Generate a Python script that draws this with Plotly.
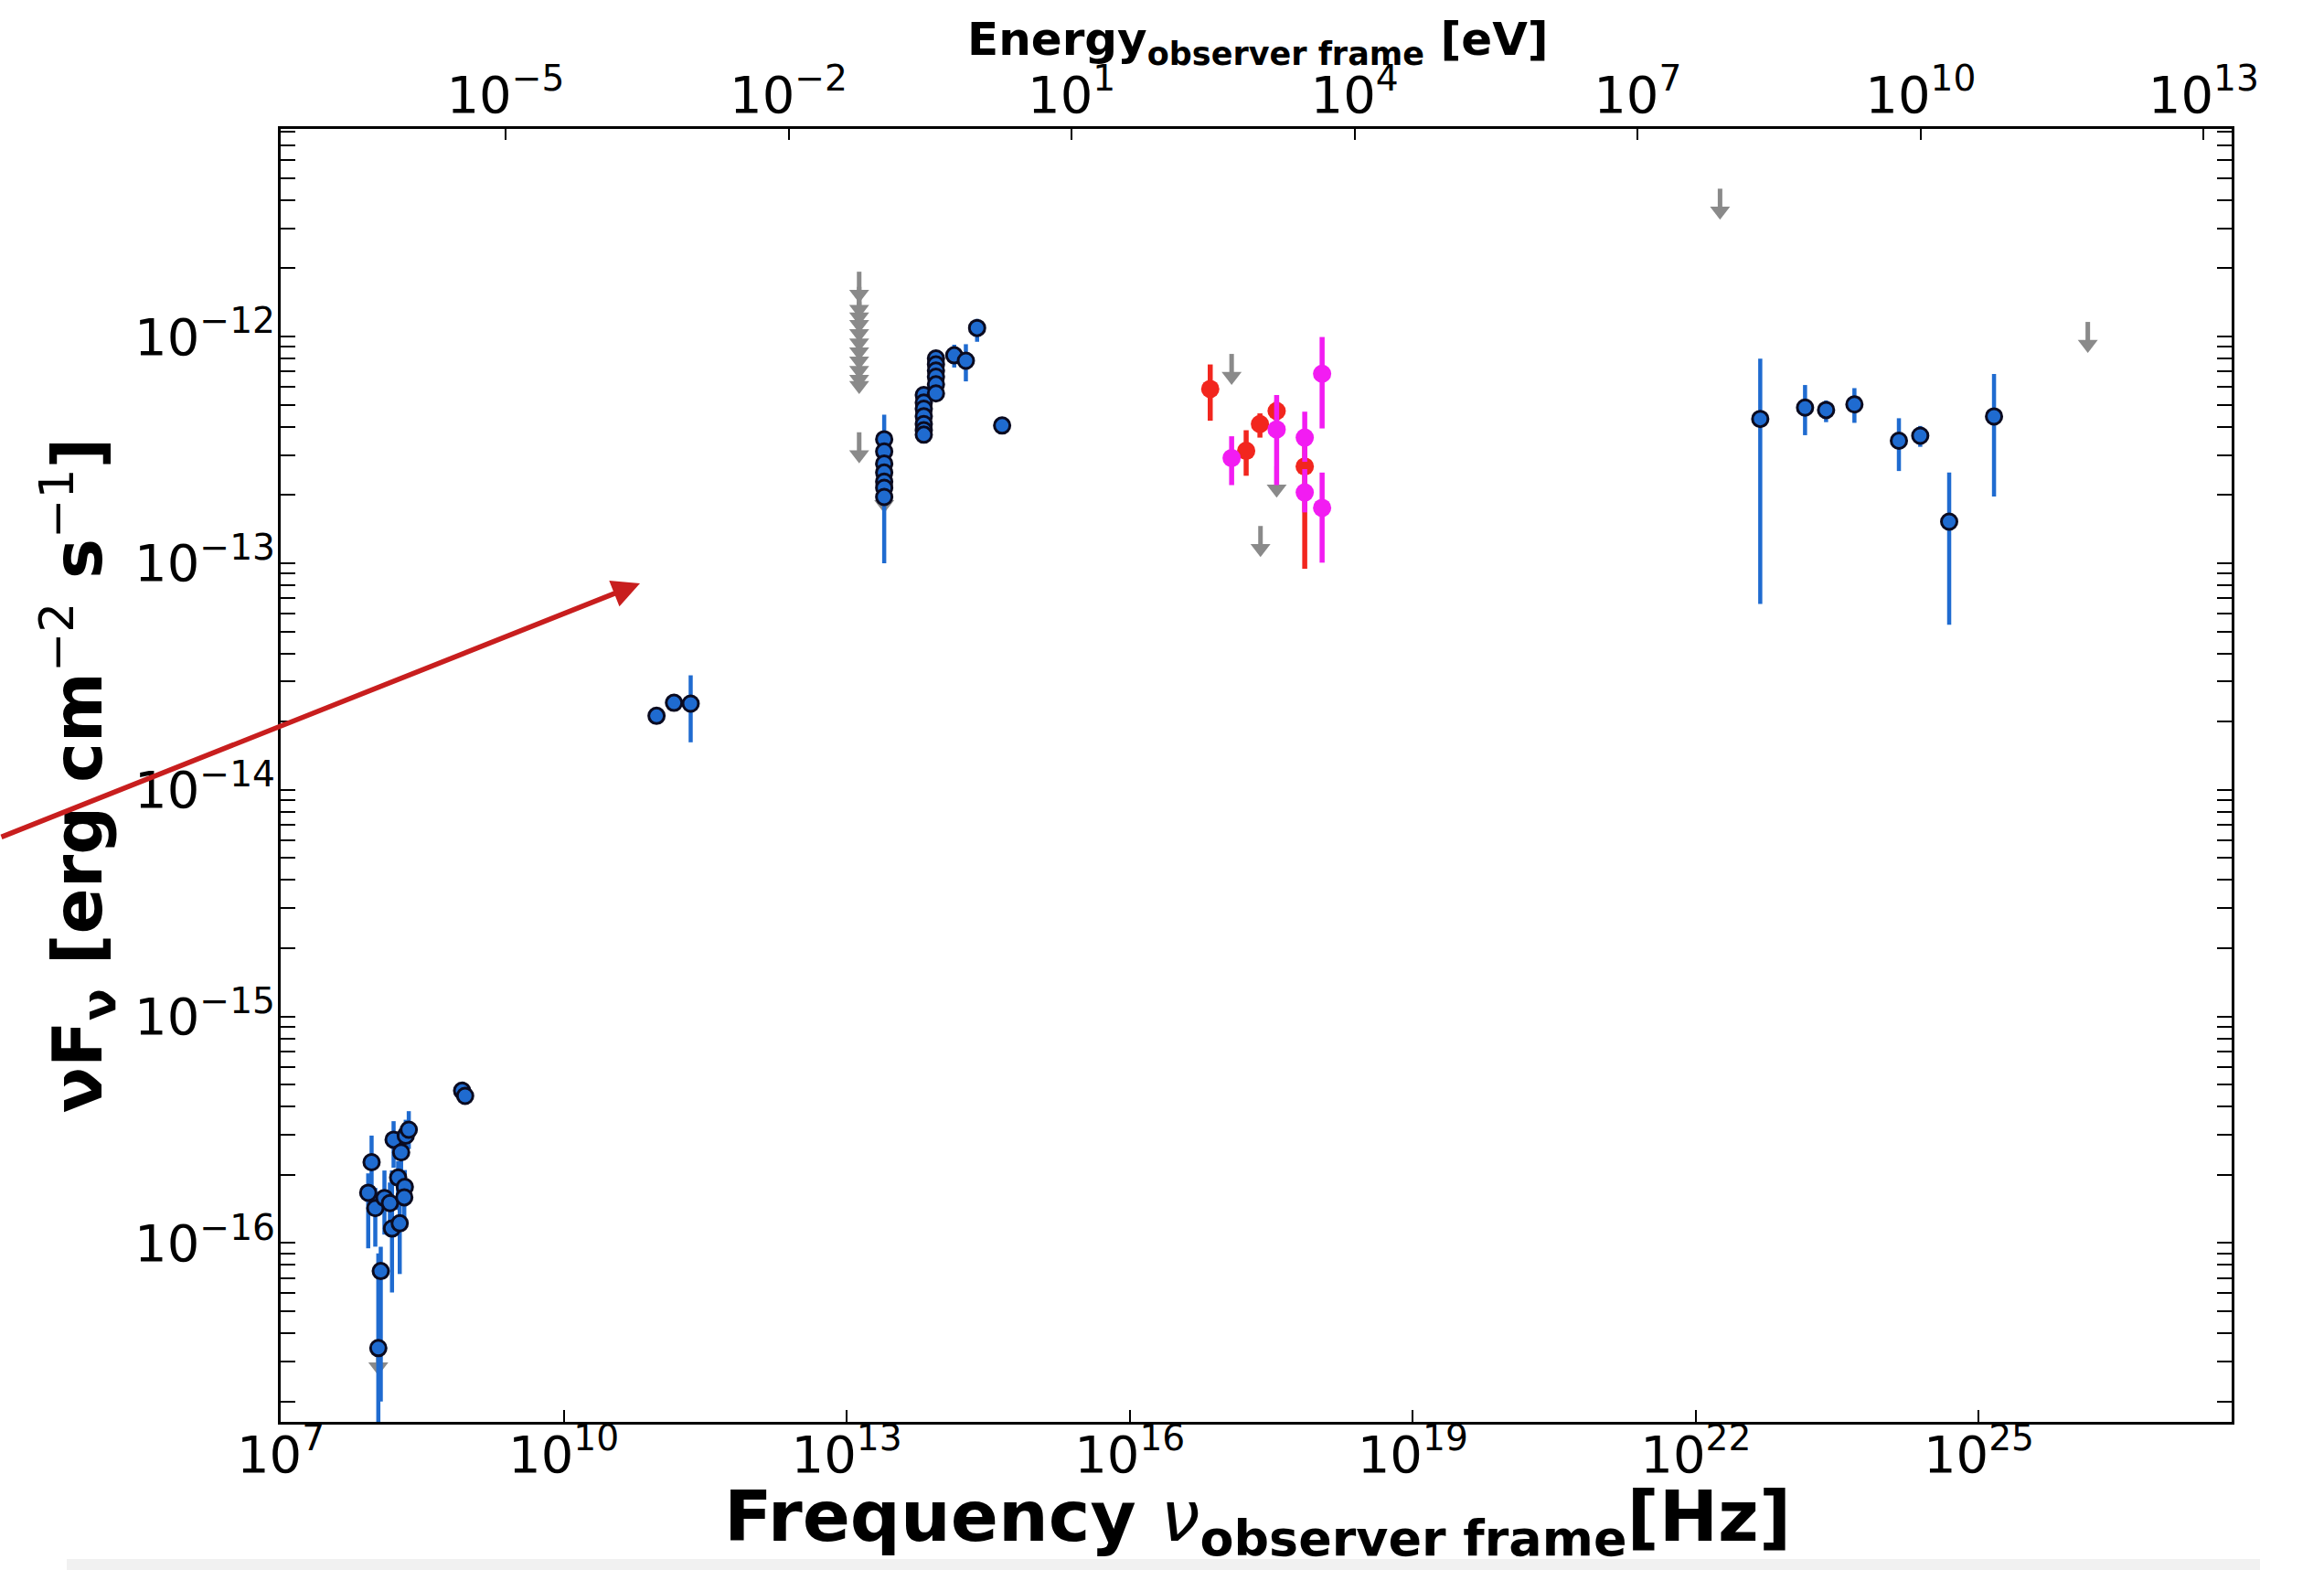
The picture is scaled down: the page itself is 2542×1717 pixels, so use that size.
import numpy as np
import plotly.graph_objects as go

# ------------------------------------------------------------------ data
# Radio (blue, with error bars)
radio_nu = [9.20e7, 8.47e7, 1.007e8, 1.259e8, 1.439e8, 1.574e8, 1.892e8, 2.118e8, 2.280e8,
            1.758e8, 2.070e8, 2.042e8, 1.514e8, 1.828e8, 1.151e8, 1.084e8, 8.38e8, 9.02e8]
radio_flux = [2.275e-16, 1.667e-16, 1.426e-16, 1.581e-16, 1.500e-16, 2.858e-16, 2.512e-16, 2.979e-16, 3.162e-16,
              1.945e-16, 1.770e-16, 1.592e-16, 1.159e-16, 1.222e-16, 7.52e-17, 3.44e-17, 4.70e-16, 4.46e-16]
radio_hi = [2.98e-16, 2.03e-16, 1.75e-16, 2.09e-16, 1.85e-16, 3.45e-16, 3.20e-16, 3.50e-16, 3.82e-16,
            2.30e-16, 2.10e-16, 1.90e-16, 2.09e-16, 2.03e-16, 9.64e-17, 9.0e-17, 4.70e-16, 4.46e-16]
radio_lo = [1.71e-16, 9.48e-17, 9.64e-17, 1.09e-16, 1.20e-16, 2.15e-16, 1.80e-16, 2.50e-16, 2.60e-16,
            1.40e-16, 1.45e-16, 1.30e-16, 6.05e-17, 7.30e-17, 2.0e-17, 5.0e-18, 4.70e-16, 4.46e-16]

# Sub-mm (blue)
submm_nu = [9.64e10, 1.476e11, 2.218e11]
submm_flux = [2.12e-14, 2.42e-14, 2.40e-14]
submm_hi = [2.12e-14, 2.42e-14, 3.20e-14]
submm_lo = [2.12e-14, 2.42e-14, 1.62e-14]

# IR / optical (blue)
iro_nu = [2.496e13] * 7 + [6.56e13] * 7 + [8.83e13] * 6 + [1.380e14, 1.832e14, 2.41e14, 4.44e14]
iro_flux = [3.52e-13, 3.11e-13, 2.75e-13, 2.51e-13, 2.29e-13, 2.15e-13, 1.96e-13,
            5.52e-13, 5.11e-13, 4.80e-13, 4.45e-13, 4.11e-13, 3.86e-13, 3.69e-13,
            8.00e-13, 7.53e-13, 7.08e-13, 6.65e-13, 6.15e-13, 5.61e-13,
            8.26e-13, 7.82e-13, 1.091e-12, 4.05e-13]
iro_hi = [3.52e-13, 3.11e-13, 2.75e-13, 4.52e-13, 2.29e-13, 2.15e-13, 1.96e-13,
          5.52e-13, 5.11e-13, 4.80e-13, 4.45e-13, 4.11e-13, 3.86e-13, 3.69e-13,
          8.00e-13, 7.53e-13, 7.08e-13, 6.65e-13, 6.15e-13, 5.61e-13,
          9.20e-13, 9.25e-13, 1.196e-12, 4.05e-13]
iro_lo = [3.52e-13, 3.11e-13, 2.75e-13, 1.00e-13, 2.29e-13, 2.15e-13, 1.96e-13,
          5.52e-13, 5.11e-13, 4.80e-13, 4.45e-13, 4.11e-13, 3.86e-13, 3.69e-13,
          8.00e-13, 7.53e-13, 7.08e-13, 6.65e-13, 6.15e-13, 5.61e-13,
          7.30e-13, 6.34e-13, 9.48e-13, 4.05e-13]

# Gamma-ray (blue)
gam_nu = [4.82e22, 1.439e23, 2.404e23, 4.80e23, 1.422e24, 2.393e24, 4.85e24, 1.449e25]
gam_flux = [4.33e-13, 4.86e-13, 4.74e-13, 5.02e-13, 3.47e-13, 3.65e-13, 1.524e-13, 4.44e-13]
gam_hi = [7.98e-13, 6.11e-13, 5.22e-13, 5.92e-13, 4.36e-13, 4.03e-13, 2.51e-13, 6.84e-13]
gam_lo = [6.61e-14, 3.67e-13, 4.19e-13, 4.16e-13, 2.55e-13, 3.26e-13, 5.35e-14, 1.97e-13]

# X-ray (red)
xr_red_nu = [7.13e16, 1.714e17, 2.399e17, 3.606e17, 7.16e17]
xr_red_flux = [5.87e-13, 3.13e-13, 4.11e-13, 4.69e-13, 2.67e-13]
xr_red_hi = [7.53e-13, 3.86e-13, 4.58e-13, 5.20e-13, 3.50e-13]
xr_red_lo = [4.25e-13, 2.43e-13, 3.58e-13, 4.25e-13, 9.44e-14]

# X-ray (magenta)
xr_mag_nu = [1.202e17, 3.606e17, 7.16e17, 7.16e17, 1.094e18, 1.094e18]
xr_mag_flux = [2.91e-13, 3.89e-13, 3.58e-13, 2.05e-13, 6.85e-13, 1.754e-13]
xr_mag_hi = [3.63e-13, 5.52e-13, 4.66e-13, 2.60e-13, 9.95e-13, 2.51e-13]
xr_mag_lo = [2.21e-13, 2.21e-13, 2.80e-13, 1.675e-13, 3.93e-13, 1.005e-13]

# Upper limits (grey arrows)
ul_nu = [1.084e8] + [1.355e13] * 12 + [2.496e13, 1.202e17, 2.432e17, 3.606e17, 1.807e22, 1.429e26]
ul_flux = [3.57e-17, 1.932e-12, 1.656e-12, 1.535e-12, 1.419e-12, 1.294e-12, 1.178e-12, 1.074e-12,
           9.79e-13, 8.91e-13, 8.13e-13, 7.64e-13, 3.78e-13, 2.28e-13, 8.38e-13, 1.459e-13, 2.67e-13,
           4.49e-12, 1.16e-12]

# Axes ticks
x_tick_vals = [1e7, 1e10, 1e13, 1e16, 1e19, 1e22, 1e25]
x_tick_text = ["10<sup>7</sup>", "10<sup>10</sup>", "10<sup>13</sup>", "10<sup>16</sup>",
               "10<sup>19</sup>", "10<sup>22</sup>", "10<sup>25</sup>"]
e_tick_vals = [1e-5, 1e-2, 1e1, 1e4, 1e7, 1e10, 1e13]
e_tick_text = ["10<sup>−5</sup>", "10<sup>−2</sup>", "10<sup>1</sup>", "10<sup>4</sup>",
               "10<sup>7</sup>", "10<sup>10</sup>", "10<sup>13</sup>"]
y_tick_vals = [1e-16, 1e-15, 1e-14, 1e-13, 1e-12]
y_tick_text = ["10<sup>−16</sup>", "10<sup>−15</sup>", "10<sup>−14</sup>", "10<sup>−13</sup>", "10<sup>−12</sup>"]

H_EV = 4.1357e-15  # Planck constant [eV s]

# ------------------------------------------------------------------ layout geometry
W, H = 2542, 1717
L, R, T, B = 307, 2441, 141, 1555
X_RANGE = [7.0, 27.68]
Y_RANGE = [-16.789, -11.084]
px_per_dec_y = (B - T) / (Y_RANGE[1] - Y_RANGE[0])

BLUE = "#1f6bd0"
RED = "#f2261e"
MAG = "#f21cf2"
GREY = "#8a8a8a"

fig = go.Figure()


def errs(v, hi, lo):
    v, hi, lo = map(np.asarray, (v, hi, lo))
    return hi - v, v - lo


# grey upper-limit arrows
arrow_dec = 34 / px_per_dec_y
head_up = 9.5 / px_per_dec_y
ul = np.asarray(ul_flux)
tip = ul * 10 ** (-arrow_dec)
head_c = tip * 10 ** head_up
fig.add_trace(go.Scatter(
    x=ul_nu, y=ul, mode="markers", marker=dict(size=1, color="rgba(0,0,0,0)"),
    error_y=dict(type="data", symmetric=False, array=np.zeros(len(ul)), arrayminus=ul - head_c,
                 color=GREY, thickness=5, width=0),
    hoverinfo="skip", showlegend=False))
fig.add_trace(go.Scatter(
    x=ul_nu, y=head_c, mode="markers",
    marker=dict(symbol="triangle-down", size=19, color=GREY, line=dict(width=0)),
    hoverinfo="skip", showlegend=False))

# blue points
for nu, f, hi, lo in [(radio_nu, radio_flux, radio_hi, radio_lo),
                      (submm_nu, submm_flux, submm_hi, submm_lo),
                      (iro_nu, iro_flux, iro_hi, iro_lo),
                      (gam_nu, gam_flux, gam_hi, gam_lo)]:
    ep, em = errs(f, hi, lo)
    fig.add_trace(go.Scatter(
        x=nu, y=f, mode="markers",
        marker=dict(size=17, color=BLUE, line=dict(color="#0b0b20", width=3)),
        error_y=dict(type="data", symmetric=False, array=ep, arrayminus=em,
                     color=BLUE, thickness=4.5, width=0),
        showlegend=False))

# X-ray points
for nu, f, hi, lo, col in [(xr_red_nu, xr_red_flux, xr_red_hi, xr_red_lo, RED),
                           (xr_mag_nu, xr_mag_flux, xr_mag_hi, xr_mag_lo, MAG)]:
    ep, em = errs(f, hi, lo)
    fig.add_trace(go.Scatter(
        x=nu, y=f, mode="markers",
        marker=dict(size=20, color=col, line=dict(width=0)),
        error_y=dict(type="data", symmetric=False, array=ep, arrayminus=em,
                     color=col, thickness=5.5, width=0),
        showlegend=False))

# y minor ticks (2..9 x 10^n)
y_minor_vals = []
for e in range(-17, -11):
    for m in range(2, 10):
        v = m * 10.0 ** e
        if Y_RANGE[0] <= np.log10(v) <= Y_RANGE[1]:
            y_minor_vals.append(v)

TICKFONT = dict(family="DejaVu Sans", size=56, color="black")

fig.update_layout(
    width=W, height=H,
    margin=dict(l=L, r=W - R, t=T, b=H - B, pad=0, autoexpand=False),
    plot_bgcolor="white", paper_bgcolor="white",
    font=dict(family="DejaVu Sans", color="black"),
    showlegend=False,
    xaxis=dict(
        type="log", range=X_RANGE, tickmode="array", tickvals=x_tick_vals, ticktext=x_tick_text,
        ticks="inside", ticklen=13, tickwidth=2, tickcolor="black",
        showline=True, linewidth=2.5, linecolor="black", mirror=False,
        showgrid=False, zeroline=False, tickfont=TICKFONT, automargin=False,
        ticklabelstandoff=-15,
    ),
    xaxis2=dict(
        type="log", overlaying="x", side="top", anchor="y",
        range=[X_RANGE[0] + np.log10(H_EV), X_RANGE[1] + np.log10(H_EV)],
        tickmode="array", tickvals=e_tick_vals, ticktext=e_tick_text,
        ticks="inside", ticklen=12, tickwidth=2, tickcolor="black",
        showline=True, linewidth=2.5, linecolor="black",
        showgrid=False, zeroline=False, tickfont=TICKFONT, automargin=False,
        ticklabelstandoff=-7,
    ),
    yaxis=dict(
        type="log", range=Y_RANGE, tickmode="array", tickvals=y_tick_vals, ticktext=y_tick_text,
        ticks="inside", ticklen=16, tickwidth=2, tickcolor="black",
        minor=dict(tickmode="array", tickvals=y_minor_vals, ticks="inside", ticklen=16,
                   tickwidth=1.6, tickcolor="black", showgrid=False),
        showline=True, linewidth=2.5, linecolor="black", mirror="ticks",
        showgrid=False, zeroline=False, tickfont=TICKFONT, automargin=False,
        ticklabelstandoff=-8,
        title=dict(text="<b>νF<sub>ν</sub> [erg cm</b><sup>−2</sup><b> s</b><sup>−1</sup><b>]</b>",
                   font=dict(family="DejaVu Sans", size=74, color="black"), standoff=12),
    ),
    shapes=[dict(type="rect", xref="paper", yref="paper",
                 x0=(73 - L) / (R - L), x1=(2472 - L) / (R - L),
                 y0=(B - 1717) / (B - T), y1=(B - 1705) / (B - T),
                 fillcolor="#f1f1f1", line=dict(width=0), layer="below")],
    annotations=[
        dict(x=(700 - L) / (R - L), y=(B - 638) / (B - T), xref="paper", yref="paper",
             ax=-700, ay=278, text="", showarrow=True, arrowhead=2, arrowsize=1.1,
             arrowwidth=5.5, arrowcolor="#c81e1e", standoff=0),
        # top (energy) axis title
        dict(x=(1376 - L) / (R - L), y=(B - 46) / (B - T), xref="paper", yref="paper",
             xanchor="center", yanchor="middle", showarrow=False,
             text="<b>Energy<sub>observer frame</sub> [eV]</b>",
             font=dict(family="DejaVu Sans", size=50, color="black")),
        # bottom (frequency) axis title
        dict(x=(1375 - L) / (R - L), y=(B - 1664) / (B - T), xref="paper", yref="paper",
             xanchor="center", yanchor="middle", showarrow=False, borderpad=0,
             text="<b>Frequency </b><i>ν</i><b><sub>observer frame</sub>[Hz]</b>",
             font=dict(family="DejaVu Sans", size=77, color="black")),
    ],
)

# helper trace so the top (energy) axis is rendered
fig.add_trace(go.Scatter(x=e_tick_vals, y=[1e-14] * len(e_tick_vals), xaxis="x2", yaxis="y",
                         mode="markers", marker=dict(size=1, color="rgba(0,0,0,0)"),
                         hoverinfo="skip", showlegend=False))

fig.write_html("out.html")
